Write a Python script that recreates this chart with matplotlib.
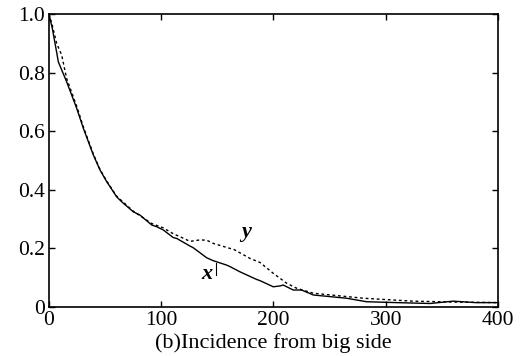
import matplotlib
matplotlib.use("Agg")
import matplotlib.pyplot as plt

# krzywa x (ciagla) i y (przerywana)
x_pos = [0, 3, 6.8, 8.3, 15.7, 24.7, 30.6, 39.5, 45.4, 51.4, 60.3, 64.8, 75.1, 81, 91.5, 96,
         101.8, 110.7, 113.8, 125.6, 128.6, 140.5, 146.4, 158.3, 161.2, 170.2, 185, 188,
         199.8, 205.8, 208.7, 217.6, 225, 235.5, 265, 283, 309.8, 339.5, 360, 380, 400]
x_val = [1.0, 0.95, 0.87, 0.837, 0.769, 0.678, 0.61, 0.519, 0.468, 0.428, 0.376, 0.359, 0.325,
         0.314, 0.28, 0.274, 0.263, 0.237, 0.234, 0.208, 0.202, 0.168, 0.158, 0.143, 0.138,
         0.12, 0.094, 0.09, 0.069, 0.072, 0.075, 0.058, 0.058, 0.041, 0.030, 0.018, 0.015,
         0.012, 0.02, 0.015, 0.015]

y_pos = [0, 3, 6.8, 11.3, 15.7, 24.7, 30.6, 39.5, 45.4, 51.4, 60.3, 75.1, 91.5, 101.8, 110.7,
         116.7, 125.6, 134.5, 140.5, 146.4, 161.2, 164, 179, 188, 199.8, 211.8, 220.7, 235.5,
         280, 324, 360, 400]
y_val = [1.0, 0.96, 0.9, 0.86, 0.78, 0.685, 0.615, 0.522, 0.47, 0.43, 0.378, 0.327, 0.285,
         0.27, 0.25, 0.24, 0.224, 0.229, 0.228, 0.217, 0.2, 0.198, 0.166, 0.152, 0.115, 0.081,
         0.064, 0.047, 0.03, 0.02, 0.017, 0.015]

x_ticks = [0, 100, 200, 300, 400]
y_ticks = [0, 0.2, 0.4, 0.6, 0.8, 1.0]
y_tick_labels = ["0", "0.2", "0.4", "0.6", "0.8", "1.0"]

plt.rcParams['font.family'] = ['Liberation Serif', 'DejaVu Serif']

fig = plt.figure(figsize=(5.25, 3.56), dpi=100)
ax = fig.add_axes([0.0933, 0.1376, 0.8553, 0.8231])

ax.plot(x_pos, x_val, color='black', linewidth=1.0)
ax.plot(y_pos, y_val, color='black', linewidth=1.0, linestyle=(0, (2, 2)))

# etykiety krzywych
ax.text(175.5, 0.257, 'y', fontsize=16, fontstyle='italic', fontweight='bold',
        ha='center', va='center')
ax.text(140.5, 0.113, 'x', fontsize=16, fontstyle='italic', fontweight='bold',
        ha='center', va='center')
ax.plot([148.8, 148.8], [0.109, 0.149], color='black', linewidth=0.8)

ax.set_xlim(0, 400)
ax.set_ylim(0, 1.0)
ax.set_xticks(x_ticks)
ax.set_yticks(y_ticks)
ax.set_yticklabels(y_tick_labels)
ax.tick_params(direction='in', top=True, right=True, length=4, width=1,
               labelsize=15.5, pad=3)
for s in ax.spines.values():
    s.set_linewidth(1.2)

ax.set_xlabel('(b)Incidence from big side', fontsize=16, labelpad=2)

fig.savefig('out.png', dpi=100)
